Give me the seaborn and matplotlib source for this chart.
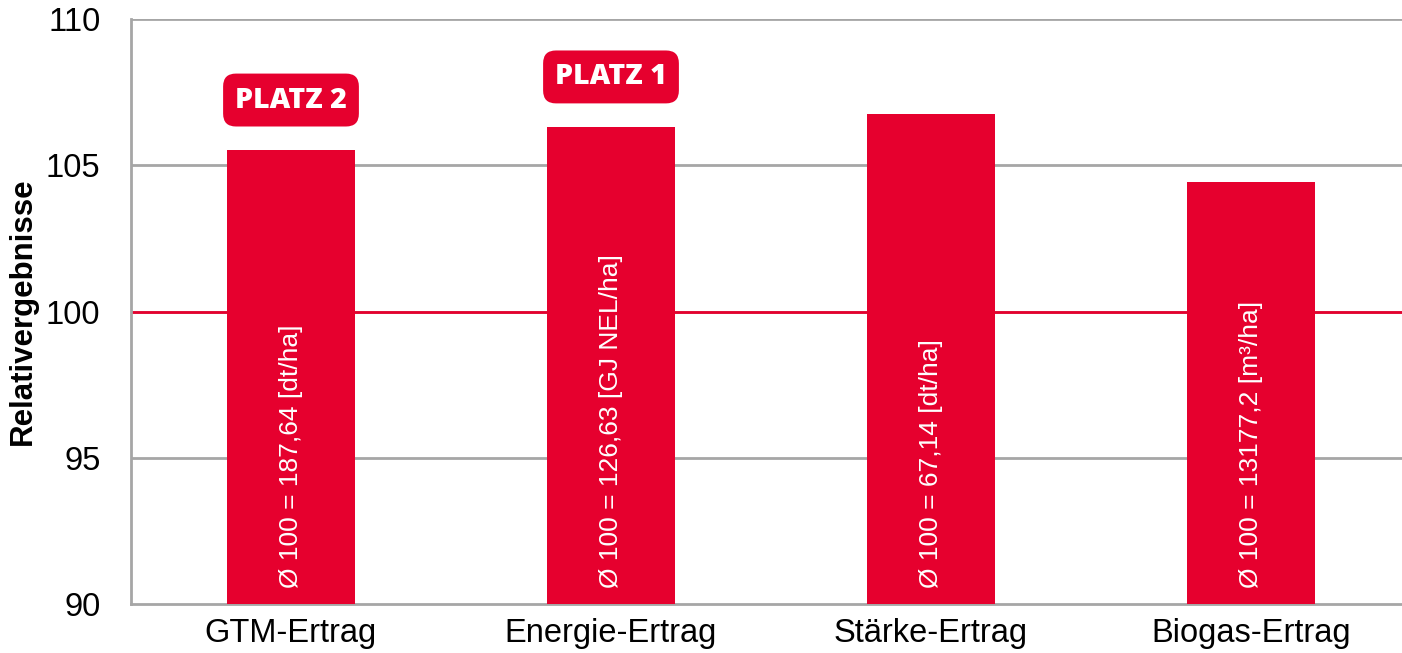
import seaborn as sns
import matplotlib.pyplot as plt

# Daten
kategorien = ['GTM-Ertrag', 'Energie-Ertrag', 'Stärke-Ertrag', 'Biogas-Ertrag']
relativ = [105.52, 106.31, 106.75, 104.43]
basis_texte = ['Ø 100 = 187,64 [dt/ha]', 'Ø 100 = 126,63 [GJ NEL/ha]',
               'Ø 100 = 67,14 [dt/ha]', 'Ø 100 = 13177,2 [m³/ha]']
platz = ['PLATZ 2', 'PLATZ 1', None, None]
y_ticks = [90, 95, 100, 105, 110]

rot = '#E6002E'
grau = '#A6A6A6'

sns.set_style('white')
plt.rcParams['font.family'] = ['Liberation Sans', 'DejaVu Sans']
plt.rcParams['text.color'] = 'black'
plt.rcParams['xtick.labelcolor'] = 'black'
plt.rcParams['ytick.labelcolor'] = 'black'
plt.rcParams['axes.labelcolor'] = 'black'

fig = plt.figure(figsize=(14.02, 6.53), dpi=100)
ax = fig.add_axes([131 / 1402, 49 / 653, 1280 / 1402, 585 / 653])

sns.barplot(x=kategorien, y=relativ, color=rot, width=0.4, saturation=1,
            linewidth=0, ax=ax, zorder=3)

ax.set_ylim(90, 110)
ax.set_xlim(-0.5, 3.5)
ax.set_yticks(y_ticks)

# Gitter + rote 100er-Linie
for t in y_ticks[1:]:
    ax.axhline(t, color=grau, lw=2, zorder=1)
ax.axhline(100, color=rot, lw=2, zorder=2)

for s in ['top', 'right']:
    ax.spines[s].set_visible(False)
for s in ['left', 'bottom']:
    ax.spines[s].set_color(grau)
    ax.spines[s].set_linewidth(2)

ax.tick_params(axis='y', length=9, width=2, color=grau, pad=13, labelsize=23.5)
ax.tick_params(axis='x', which='major', length=0, pad=10, labelsize=23.5)
ax.set_xticks([-0.5, 0.5, 1.5, 2.5, 3.5], minor=True)
ax.tick_params(axis='x', which='minor', length=10, width=2, color=grau)

ax.set_xlabel('')
ax.set_ylabel('Relativergebnisse', fontsize=22.5, fontweight='bold')
ax.yaxis.set_label_coords(-0.073, 0.5)

# Texte in den Balken
for i, txt in enumerate(basis_texte):
    ax.text(i, 90.55, txt, rotation=90, ha='center', va='bottom',
            color='white', fontsize=19, zorder=4)

# Platz-Badges
for i, p in enumerate(platz):
    if p is None:
        continue
    ax.annotate(p, xy=(i, relativ[i]), xytext=(0, 36), textcoords='offset points',
                ha='center', va='center', color='white', fontsize=20.5,
                fontweight='heavy', family=['Open Sans', 'DejaVu Sans'], zorder=5,
                bbox=dict(boxstyle='round,pad=0.42,rounding_size=0.45',
                          fc=rot, ec='none'))

fig.savefig('out.png', dpi=100)
